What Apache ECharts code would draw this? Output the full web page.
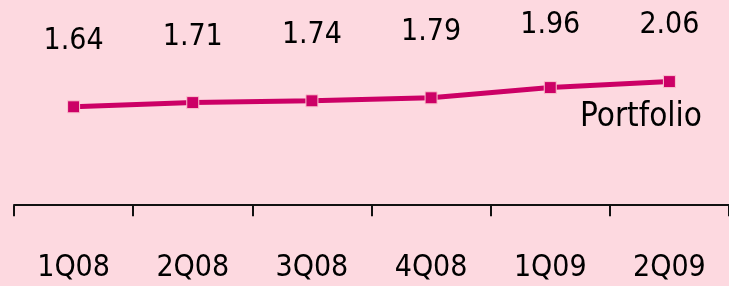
<!DOCTYPE html>
<html>
<head>
<meta charset="utf-8">
<script src="https://cdn.jsdelivr.net/npm/echarts@6/dist/echarts.min.js"></script>
<style>
  html, body { margin: 0; padding: 0; background: #fdd9e0; }
  #chart { width: 729px; height: 286px; }
</style>
</head>
<body>
<div id="chart"></div>
<script>
var quarters = ['1Q08', '2Q08', '3Q08', '4Q08', '1Q09', '2Q09'];
var portfolio = [1.64, 1.71, 1.74, 1.79, 1.96, 2.06];
var seriesName = 'Portfolio';

var myChart = echarts.init(document.getElementById('chart'));

var option = {
    backgroundColor: '#fdd9e0',
    animation: false,
    textStyle: { fontFamily: 'DejaVu Sans Condensed' },
    grid: { left: 14, right: 0, top: 0, bottom: 73 },
    xAxis: {
        type: 'category',
        data: quarters,
        boundaryGap: true,
        axisLine: { lineStyle: { color: '#111', width: 2 } },
        axisTick: { show: true, length: 11, lineStyle: { color: '#111', width: 2 } },
        axisLabel: { color: '#000', fontSize: 30, margin: 40, fontFamily: 'DejaVu Sans Condensed' }
    },
    yAxis: {
        type: 'value',
        min: -0.13,
        max: 3.42,
        show: false,
        splitLine: { show: false }
    },
    series: [{
        name: seriesName,
        type: 'line',
        data: portfolio,
        symbol: 'rect',
        symbolSize: 12,
        itemStyle: { color: '#cc0066', borderColor: '#fbc4cf', borderWidth: 1 },
        lineStyle: { color: '#cc0066', width: 5 },
        label: {
            show: true,
            position: 'top',
            distance: 44,
            color: '#000',
            fontSize: 30,
            fontFamily: 'DejaVu Sans Condensed',
            formatter: function(p) { return Number(p.value).toFixed(2); }
        }
    }],
    graphic: [{
        type: 'text',
        right: 27,
        top: 101,
        style: { text: seriesName, fill: '#000', fontSize: 33, fontFamily: 'DejaVu Sans Condensed' }
    }]
};

myChart.setOption(option);

// the upper labels sit against the top edge: shrink their gap so they stay inside
var items = portfolio.map(function(v, i) {
    var py = myChart.convertToPixel({ seriesIndex: 0 }, [i, v])[1];
    return { value: v, label: { distance: Math.min(44, py - 47) } };
});
myChart.setOption({ series: [{ data: items }] });
</script>
</body>
</html>
